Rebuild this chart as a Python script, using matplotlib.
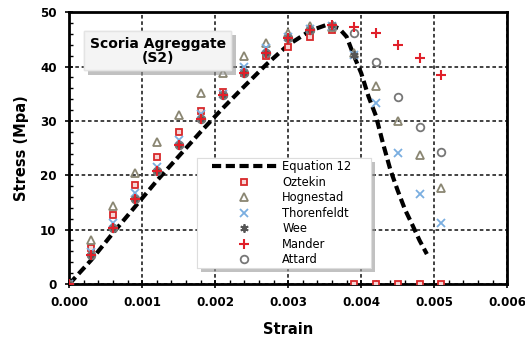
import numpy as np
import matplotlib
matplotlib.use("Agg")
import matplotlib.pyplot as plt
import matplotlib.patheffects as pe
from matplotlib.patches import Rectangle
from matplotlib.ticker import MultipleLocator

plt.rcParams['font.family'] = ['DejaVu Sans']

# strain points of the test data
strain = [0, 0.0003, 0.0006, 0.0009, 0.0012, 0.0015, 0.0018, 0.0021, 0.0024,
          0.0027, 0.0030, 0.0033, 0.0036, 0.0039, 0.0042, 0.0045, 0.0048, 0.0051]

nan = np.nan
oztekin = [0, 6.6, 12.7, 18.2, 23.3, 27.9, 31.9, 35.3, 38.8, 41.9, 43.7, 45.4, 46.7, 0, 0, 0, 0, 0]
hognestad = [0, 8.0, 14.4, 20.5, 26.2, 31.1, 35.1, 38.9, 41.9, 44.4, 46.2, 47.4, 47.2, 42.5, 36.5, 29.9, 23.8, 17.6]
thorenfeldt = [0, 5.8, 11.3, 16.7, 21.6, 26.5, 31.3, 35.0, 40.0, 43.4, 45.5, 47.0, 47.5, 42.1, 33.3, 24.1, 16.5, 11.3]
wee = [0, 5.3, 10.3, 15.7, 20.7, 25.6, 30.3, 34.8, 38.8, 42.5, 45.2, 46.8, 47.7, 42.1, nan, nan, nan, nan]
mander = [0, 5.3, 10.3, 15.7, 20.7, 25.6, 30.3, 34.8, 38.8, 42.5, 45.2, 46.8, 47.7, 47.3, 46.1, 44.0, 41.6, 38.5]
attard = [0, 5.3, 10.3, 15.7, 20.7, 25.6, 30.3, 34.8, 38.8, 42.5, 45.2, 46.8, 47.5, 46.1, 40.9, 34.5, 28.9, 24.2]

# Equation 12 curve
eq_strain = [0, 0.0003, 0.0006, 0.0009, 0.0012, 0.0015, 0.0018, 0.0021, 0.0024,
             0.0027, 0.0030, 0.0033, 0.00355, 0.0037, 0.0038, 0.0039, 0.0040,
             0.0041, 0.0042, 0.0043, 0.0044, 0.0045, 0.0046, 0.0047, 0.0048, 0.0049]
eq_stress = [0, 4.4, 9.4, 14.2, 19.0, 23.5, 28.0, 32.3, 36.4, 40.4, 44.0, 46.6,
             47.8, 47.0, 45.5, 42.0, 38.8, 34.5, 31.0, 25.8, 21.0, 17.2, 13.7,
             10.9, 8.0, 5.5]

fig = plt.figure(figsize=(5.25, 3.51), dpi=100)
ax = fig.add_axes([0.132, 0.191, 0.834, 0.774])

ax.plot(eq_strain, eq_stress, color='black', lw=3, ls=(0, (2.2, 1.1)),
        label='Equation 12', zorder=3)
ax.plot(strain, oztekin, ls='none', marker='s', ms=5, mfc='#f6d6d6', mec='#d8282a',
        mew=1.3, label='Oztekin', zorder=4)
ax.plot(strain, hognestad, ls='none', marker='^', ms=5.5, mfc='none', mec='#8a8672',
        mew=1.3, label='Hognestad', zorder=4)
ax.plot(strain, thorenfeldt, ls='none', marker='x', ms=6, mec='#7aaee0',
        mew=1.3, label='Thorenfeldt', zorder=4)
ax.plot(strain, wee, ls='none', marker=(6, 2, 0), ms=6, mec='#555555',
        mew=1.3, label='Wee', zorder=4)
ax.plot(strain, mander, ls='none', marker='+', ms=7, mec='#e0202a',
        mew=1.5, label='Mander', zorder=5)
ax.plot(strain, attard, ls='none', marker='o', ms=5.5, mfc='none', mec='#777777',
        mew=1.3, label='Attard', zorder=4)

ax.set_xlim(0, 0.006)
ax.set_ylim(0, 50)
ax.xaxis.set_major_locator(MultipleLocator(0.001))
ax.xaxis.set_minor_locator(MultipleLocator(0.0002))
ax.yaxis.set_major_locator(MultipleLocator(10))
ax.yaxis.set_minor_locator(MultipleLocator(2))
ax.set_xticklabels(['%.3f' % v for v in ax.get_xticks()])

ax.grid(True, which='major', color='#333333', ls=(0, (2, 1.5)), lw=1.3)
ax.tick_params(which='major', direction='inout', length=6, width=1.2,
               labelsize=8.6, pad=6)
ax.tick_params(which='minor', direction='in', length=3, width=1)
for lab in ax.get_xticklabels() + ax.get_yticklabels():
    lab.set_fontweight('bold')
for s in ax.spines.values():
    s.set_linewidth(2)

ax.set_xlabel('Strain', fontsize=10.5, fontweight='bold', labelpad=9)
ax.set_ylabel('Stress (Mpa)', fontsize=10.5, fontweight='bold', labelpad=8)

# legend frame with a soft shadow
shadow = [pe.withSimplePatchShadow(offset=(3, -3), shadow_rgbFace='#999999', alpha=0.6),
          pe.Normal()]
frame = Rectangle((0.291, 0.059), 0.397, 0.405, transform=ax.transAxes,
                  fc='white', ec='#dddddd', lw=0.8, zorder=6)
frame.set_path_effects(shadow)
ax.add_patch(frame)

leg = ax.legend(loc='upper left', bbox_to_anchor=(0.326, 0.456), fontsize=8.3,
                handlelength=5.6, labelspacing=0.22, borderpad=0, borderaxespad=0,
                handletextpad=0.5, frameon=False)
leg.set_zorder(7)

t = ax.text(0.202, 0.858, 'Scoria Agreggate\n(S2)', transform=ax.transAxes,
            ha='center', va='center', fontsize=10, fontweight='bold',
            linespacing=1.0, zorder=8,
            bbox=dict(boxstyle='square,pad=0.4', fc='#f4f4f4', ec='#e4e4e4'))
t.get_bbox_patch().set_path_effects(shadow)

fig.savefig('out.png', dpi=100)
